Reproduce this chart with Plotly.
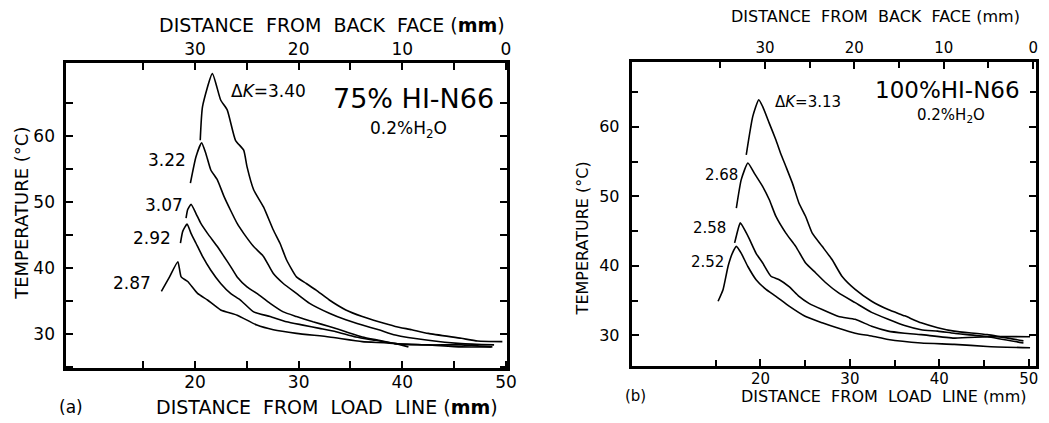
import plotly.graph_objects as go

# ---------------- data ----------------
# Panel (a): 75% HI-N66, 0.2% H2O
a340_x = [20.51, 20.73, 21.68, 22.48, 23.11, 23.91, 24.70, 25.02, 25.66, 26.61, 27.56, 28.20, 28.83, 29.79,
          30.74, 31.69, 32.96, 34.55, 36.14, 37.73, 39.32, 40.91, 42.50, 45.68, 47.26, 49.65]
a340_y = [59.3, 64.4, 69.4, 65.4, 63.9, 59.3, 57.8, 55.3, 51.8, 49.2, 45.7, 43.7, 41.2, 38.6,
          37.6, 36.6, 35.1, 33.6, 32.6, 31.8, 31.1, 30.6, 30.05, 29.3, 28.9, 28.8]
a322_x = [19.56, 20.10, 20.64, 21.05, 21.53, 22.16, 22.80, 23.43, 24.07, 24.70, 25.66, 26.61, 27.56, 28.52,
          29.79, 31.06, 32.96, 34.55, 36.14, 37.73, 39.32, 42.50, 45.68, 48.85]
a322_y = [52.8, 56.8, 58.9, 57.3, 54.8, 53.3, 50.8, 48.7, 46.7, 45.2, 43.2, 41.7, 39.1, 37.6,
          36.1, 34.6, 33.1, 32.1, 31.3, 30.6, 29.8, 29.0, 28.5, 28.3]
a307_x = [19.14, 19.30, 19.62, 20.10, 20.57, 21.21, 22.16, 22.80, 23.43, 24.07, 25.02, 25.97, 27.25, 28.52,
          29.79, 31.38, 32.96, 34.55, 36.14, 37.73, 39.32, 42.50, 45.68, 48.54]
a307_y = [47.5, 48.8, 49.6, 48.2, 46.7, 45.2, 43.2, 41.7, 40.2, 38.6, 37.1, 36.1, 34.6, 33.3,
          32.6, 31.8, 31.1, 30.3, 29.5, 29.0, 28.5, 28.3, 28.3, 28.0]
a292_x = [18.60, 18.82, 19.24, 19.62, 20.10, 20.73, 21.53, 22.48, 23.43, 24.39, 25.66, 27.25, 28.83, 30.42,
          32.01, 33.60, 35.51, 37.41, 39.32, 42.50, 45.68, 48.69]
a292_y = [43.7, 45.5, 46.6, 45.2, 43.7, 41.7, 39.6, 37.6, 36.1, 35.1, 33.3, 32.6, 31.8, 31.3,
          30.8, 30.3, 29.5, 29.0, 28.5, 28.3, 28.0, 28.0]
a287_x = [16.76, 17.55, 18.35, 18.67, 19.30, 20.25, 21.21, 22.48, 24.07, 25.97, 27.56, 29.79, 32.96, 36.14,
          39.32, 40.59]
a287_y = [36.4, 38.6, 40.9, 38.6, 37.9, 36.1, 35.1, 33.6, 32.8, 31.3, 30.6, 30.05, 29.5, 28.8,
          28.5, 28.0]

# Panel (b): 100% HI-N66, 0.2% H2O
b313_x = [18.41, 19.14, 19.81, 20.25, 20.99, 21.73, 22.28, 22.84, 23.57, 24.31, 25.05, 25.79, 26.90, 28.00,
          29.11, 30.59, 32.43, 34.28, 36.12, 37.97, 39.82, 41.66, 45.35, 49.41]
b313_y = [55.97, 61.5, 63.9, 62.9, 60.5, 58.1, 56.1, 54.3, 51.9, 49.0, 47.1, 44.7, 42.8, 40.9,
          38.5, 36.6, 34.9, 33.7, 32.8, 31.8, 31.1, 30.6, 30.1, 29.2]
b268_x = [17.30, 17.85, 18.59, 19.32, 20.25, 20.99, 21.73, 22.84, 23.94, 25.05, 26.16, 27.27, 28.74, 30.59,
          32.43, 34.28, 36.12, 37.97, 39.82, 41.66, 45.35, 49.41]
b268_y = [48.3, 52.4, 54.8, 53.3, 51.4, 49.5, 47.1, 44.7, 42.8, 40.4, 39.0, 37.6, 36.1, 34.7,
          33.3, 32.3, 31.4, 30.8, 30.6, 30.3, 29.8, 28.9]
b258_x = [17.11, 17.48, 17.74, 18.22, 18.78, 19.51, 20.25, 21.17, 22.10, 23.20, 24.31, 25.42, 26.90, 28.74,
          30.59, 32.43, 34.28, 36.12, 37.97, 41.66, 45.35, 50.15]
b258_y = [43.3, 45.2, 46.2, 45.2, 43.8, 41.8, 40.4, 38.5, 38.0, 37.0, 35.6, 34.6, 33.7, 32.7,
          32.3, 31.3, 30.6, 30.3, 30.1, 29.6, 29.8, 29.8]
b252_x = [15.26, 15.82, 16.37, 16.85, 17.30, 17.85, 18.59, 19.51, 20.62, 21.73, 23.20, 25.05, 26.90, 28.74,
          30.59, 32.43, 34.28, 37.97, 41.66, 45.35, 50.15]
b252_y = [34.9, 36.6, 39.9, 41.8, 42.8, 41.8, 39.9, 38.0, 36.6, 35.6, 34.2, 32.7, 31.8, 31.0,
          30.3, 29.9, 29.4, 28.9, 28.7, 28.4, 28.2]

x_ticks = [20, 30, 40, 50]
top_ticks = [30, 20, 10, 0]
y_ticks = [30, 40, 50, 60]

FONT = "DejaVu Sans"

fig = go.Figure()

def curve(x, y, xa, ya):
    fig.add_trace(go.Scatter(x=x, y=y, mode="lines", xaxis=xa, yaxis=ya,
                             line=dict(color="black", width=1.6, shape="spline", smoothing=0.5),
                             showlegend=False, hoverinfo="skip"))

for xs, ys in [(a340_x, a340_y), (a322_x, a322_y), (a307_x, a307_y), (a292_x, a292_y), (a287_x, a287_y)]:
    curve(xs, ys, "x", "y")
for xs, ys in [(b313_x, b313_y), (b268_x, b268_y), (b258_x, b258_y), (b252_x, b252_y)]:
    curve(xs, ys, "x2", "y2")

# invisible anchors for the top (back-face) axes
fig.add_trace(go.Scatter(x=[top_ticks[0]], y=[None], xaxis="x3", yaxis="y", showlegend=False, hoverinfo="skip"))
fig.add_trace(go.Scatter(x=[top_ticks[0]], y=[None], xaxis="x4", yaxis="y2", showlegend=False, hoverinfo="skip"))

frame = dict(showline=True, linecolor="black", linewidth=3, showgrid=False, zeroline=False,
             ticks="inside", tickcolor="black", tickwidth=1.5, ticklen=7)

def minor(vals, ln=7):
    return dict(tickvals=vals, ticks="inside", ticklen=ln, tickcolor="black", tickwidth=1.5)

fig.update_layout(
    width=1049, height=423, margin=dict(l=0, r=0, t=0, b=0),
    paper_bgcolor="white", plot_bgcolor="white",
    font=dict(family=FONT, color="black"),
    xaxis=dict(**frame, domain=[0.0639, 0.488], anchor="y", range=[7.6, 50.1], mirror=True,
               tickvals=x_ticks, tickfont=dict(size=17), ticklabelstandoff=-3,
               minor=minor([15, 25, 35, 45])),
    xaxis3=dict(**frame, overlaying="x", side="top", anchor="y", range=[42.4, -0.1],
                tickvals=top_ticks, tickfont=dict(size=17), ticklabelstandoff=-2,
                minor=minor([35, 25, 15, 5])),
    yaxis=dict(**frame, domain=[0.130, 0.851], anchor="x", range=[24.8, 71.0], mirror="ticks",
               tickvals=y_ticks, tickfont=dict(size=17), ticklabelstandoff=5,
               minor=minor([25, 35, 45, 55, 65])),
    xaxis2=dict(**frame, domain=[0.608, 0.997], anchor="y2", range=[5.6, 50.8], mirror=True,
                tickvals=x_ticks, tickfont=dict(size=15), ticklabelstandoff=-3,
                minor=minor([15, 25, 35, 45], 6)),
    xaxis4=dict(**frame, overlaying="x2", side="top", anchor="y2", range=[44.9, -0.3],
                tickvals=top_ticks, tickfont=dict(size=15), ticklabelstandoff=0,
                minor=minor([35, 25, 15, 5], 6)),
    yaxis2=dict(**frame, domain=[0.135, 0.853], anchor="x2", range=[25.6, 69.3], mirror="ticks",
                tickvals=y_ticks, tickfont=dict(size=16), ticklabelstandoff=6,
                minor=minor([25, 35, 45, 55, 65], 6)),
)

ann = []
def A(text, x, y, xref, yref, size, xanchor="center", yanchor="middle", angle=0):
    ann.append(dict(text=text, x=x, y=y, xref=xref, yref=yref, showarrow=False, xanchor=xanchor,
                    yanchor=yanchor, textangle=angle, font=dict(size=size, family=FONT, color="black")))

W, H = 1049.0, 423.0
def P(px, py):
    return px / W, 1 - py / H

# panel (a) labels
A("Δ<i>K</i>=3.40", 23.3, 66.8, "x", "y", 17, xanchor="left")
A("3.22", 19.33, 56.3, "x", "y", 17, xanchor="right")
A("3.07", 19.05, 49.5, "x", "y", 17, xanchor="right")
A("2.92", 17.9, 44.5, "x", "y", 17, xanchor="right")
A("2.87", 16.0, 37.7, "x", "y", 17, xanchor="right")
A("75% HI-N66", 41.1, 65.6, "x", "y", 27)
A("0.2%H<sub>2</sub>O", 40.6, 61.0, "x", "y", 17)
# panel (b) labels
A("Δ<i>K</i>=3.13", 21.36, 63.6, "x2", "y2", 15, xanchor="left")
A("2.68", 17.7, 53.1, "x2", "y2", 15, xanchor="right")
A("2.58", 16.37, 45.5, "x2", "y2", 15, xanchor="right")
A("2.52", 16.15, 40.6, "x2", "y2", 15, xanchor="right")
A("100%HI-N66", 40.96, 65.3, "x2", "y2", 23)
A("0.2%H<sub>2</sub>O", 41.3, 61.6, "x2", "y2", 15)

# axis titles (paper coordinates)
x, y = P(335, 25); A("DISTANCE  FROM  BACK  FACE (<b>mm</b>)", x, y, "paper", "paper", 19)
x, y = P(330, 407); A("DISTANCE  FROM  LOAD  LINE (<b>mm</b>)", x, y, "paper", "paper", 19)
x, y = P(72, 407); A("(a)", x, y, "paper", "paper", 17)
x, y = P(22, 213); A("TEMPERATURE (°C)", x, y, "paper", "paper", 18, angle=-90)
x, y = P(884, 16); A("DISTANCE  FROM  BACK  FACE (mm)", x, y, "paper", "paper", 16)
x, y = P(893, 396); A("DISTANCE  FROM  LOAD  LINE (mm)", x, y, "paper", "paper", 16)
x, y = P(642, 396); A("(b)", x, y, "paper", "paper", 15)
x, y = P(588, 238); A("TEMPERATURE (°C)", x, y, "paper", "paper", 16, angle=-90)

fig.update_layout(annotations=ann)
fig.write_html("out.html", config={"displayModeBar": False},
               post_script="document.body.style.margin='0';document.body.style.overflow='hidden';")
